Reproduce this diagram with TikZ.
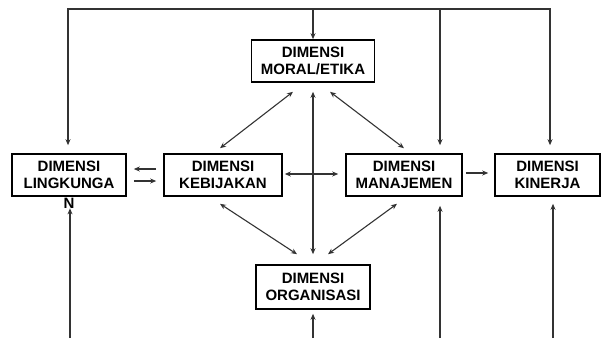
\documentclass[tikz,border=0pt]{standalone}
\usepackage{fontspec}
\setmainfont{Liberation Sans}
\usetikzlibrary{arrows.meta,calc}

\newcommand{\dimfont}{\fontsize{15}{17.5}\selectfont\bfseries}
\tikzset{
  dimbox/.style={draw,line width=1.6pt,minimum width=#1,minimum height=42pt,inner sep=0pt,align=center,font=\dimfont},
  frameline/.style={line width=1.1pt,draw=black!80,line cap=rect},
  conn/.style={line width=1.1pt,draw=black!80,-{Stealth[length=6pt,width=5pt]}},
  dconn/.style={line width=1.1pt,draw=black!80,{Stealth[length=6pt,width=5pt]}-{Stealth[length=6pt,width=5pt]}},
}

\begin{document}
\begin{tikzpicture}[x=1pt,y=1pt]
	\useasboundingbox (0,0) rectangle (601,338);
	% the six dimensions
	\node[dimbox=123pt] (moral) at (313,277) {DIMENSI\\MORAL/ETIKA};
	\node[dimbox=114pt] (lingk) at (69,163) {DIMENSI\\LINGKUNGA};
	\node[font=\dimfont,inner sep=0pt] (lingkN) at (69,135) {N};
	\node[dimbox=118pt] (kebij) at (223,163) {DIMENSI\\KEBIJAKAN};
	\node[dimbox=116pt] (manaj) at (404,163) {DIMENSI\\MANAJEMEN};
	\node[dimbox=105pt] (kin) at (547.5,163) {DIMENSI\\KINERJA};
	\node[dimbox=114pt,minimum height=44pt] (organ) at (313,51) {DIMENSI\\ORGANISASI};

	% feedback line along the top
	\coordinate (tl) at (68,329);
	\coordinate (tm) at (440,329);
	\coordinate (tr) at (550,329);
	\draw[frameline] (tl) -- (tr);
	\draw[conn] (tl) -- ($(tl |- lingk.north)+(0,8)$);
	\draw[conn] (moral.north |- tl) -- (moral.north);
	\draw[conn] (tm) -- ($(tm |- manaj.north)+(0,8)$);
	\draw[conn] (tr) -- ($(tr |- kin.north)+(0,8)$);

	% inputs from below
	\coordinate (lb) at (70,0);
	\coordinate (ob) at (313,0);
	\coordinate (mb) at (440,0);
	\coordinate (kb) at (553,0);
	\draw[conn] (lb) -- (lb |- lingkN.south);
	\draw[conn] (ob) -- ($(organ.south)+(0,-4)$);
	\draw[conn] (mb) -- ($(mb |- manaj.south)+(0,-9)$);
	\draw[conn] (kb) -- ($(kb |- kin.south)+(0,-7)$);

	% links in the middle row
	\draw[conn] ($(kebij.west)+(-7,6)$) -- ($(lingk.east)+(7,6)$);
	\draw[conn] ($(lingk.east)+(7,-6)$) -- ($(kebij.west)+(-7,-6)$);
	\draw[dconn] ($(kebij.east)+(2,1)$) -- ($(manaj.west)+(-7,1)$);
	\draw[conn] ($(manaj.east)+(3,2)$) -- ($(kin.west)+(-6,2)$);

	% vertical and diagonal links
	\draw[dconn] ($(moral.south)+(0,-9)$) -- ($(organ.north)+(0,10)$);
	\draw[dconn] ($(kebij.north)+(-3,5)$) -- ($(moral.south)+(-20,-9)$);
	\draw[dconn] ($(manaj.north)+(0,5)$) -- ($(moral.south)+(17,-9)$);
	\draw[dconn] ($(kebij.south)+(-3,-7)$) -- ($(organ.north)+(-16,10)$);
	\draw[dconn] ($(manaj.south)+(-7,-7)$) -- ($(organ.north)+(15,10)$);
\end{tikzpicture}
\end{document}
